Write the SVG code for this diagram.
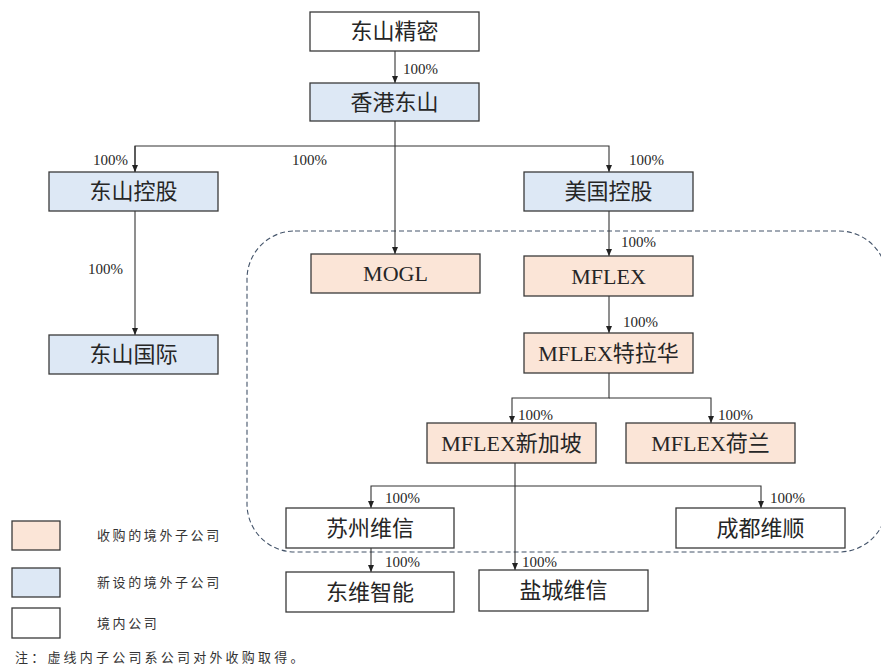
<svg xmlns="http://www.w3.org/2000/svg" width="881" height="672" viewBox="0 0 881 672">
<defs>
<style>
.box{stroke:#3a3a3a;stroke-width:1.3}
.w{fill:#ffffff}
.b{fill:#dde8f5}
.p{fill:#fbe5d7}
.t{font-family:"Liberation Serif","Noto Sans CJK SC",serif;font-size:22px;fill:#262626;text-anchor:middle}
.pc{font-family:"Liberation Serif",serif;font-size:15px;fill:#262626}
.ln{fill:none;stroke:#333;stroke-width:1.1}
.lg{font-family:"Noto Sans CJK SC",sans-serif;font-size:13px;fill:#333;letter-spacing:2.6px}
.nt{letter-spacing:3.2px}
</style>
<marker id="ah" markerUnits="userSpaceOnUse" markerWidth="8" markerHeight="8" refX="7" refY="3" orient="auto">
<path d="M0,0 L7,3 L0,6 z" fill="#222"/>
</marker>
</defs>
<rect width="881" height="672" fill="#ffffff"/>

<rect x="247" y="231" width="640" height="321" rx="48" ry="48" fill="none" stroke="#44546a" stroke-width="1.1" stroke-dasharray="5,3"/>

<g id="connectors">
<line class="ln" x1="395" y1="51" x2="395" y2="83" marker-end="url(#ah)"/>
<line class="ln" x1="395" y1="121" x2="395" y2="254" marker-end="url(#ah)"/>
<polyline class="ln" points="135,172 135,146 609,146 609,172" marker-end="url(#ah)"/>
<line class="ln" x1="135" y1="146" x2="135" y2="172" marker-end="url(#ah)"/>
<line class="ln" x1="135" y1="211" x2="135" y2="335" marker-end="url(#ah)"/>
<line class="ln" x1="609" y1="211" x2="609" y2="256" marker-end="url(#ah)"/>
<line class="ln" x1="609" y1="296" x2="609" y2="333" marker-end="url(#ah)"/>
<polyline class="ln" points="609,373 609,398 512,398 512,423" marker-end="url(#ah)"/>
<polyline class="ln" points="609,398 711,398 711,423" marker-end="url(#ah)"/>
<line class="ln" x1="515" y1="463" x2="515" y2="570" marker-end="url(#ah)"/>
<polyline class="ln" points="515,486 371,486 371,508" marker-end="url(#ah)"/>
<polyline class="ln" points="515,486 761,486 761,508" marker-end="url(#ah)"/>
<line class="ln" x1="371" y1="548" x2="371" y2="572" marker-end="url(#ah)"/>
<text class="pc" x="403" y="74">100%</text>
<text class="pc" x="93" y="165">100%</text>
<text class="pc" x="292" y="165">100%</text>
<text class="pc" x="629" y="165">100%</text>
<text class="pc" x="621" y="247">100%</text>
<text class="pc" x="88" y="274">100%</text>
<text class="pc" x="623" y="327">100%</text>
<text class="pc" x="518" y="420">100%</text>
<text class="pc" x="718" y="420">100%</text>
<text class="pc" x="385" y="503">100%</text>
<text class="pc" x="770" y="503">100%</text>
<text class="pc" x="385" y="567">100%</text>
<text class="pc" x="522" y="567">100%</text>
</g>

<g id="n1"><rect class="box w" x="310" y="12" width="169" height="39"/><text class="t" x="394.5" y="39">东山精密</text></g>
<g id="n2"><rect class="box b" x="310" y="83" width="169" height="38"/><text class="t" x="394.5" y="110">香港东山</text></g>
<g id="n3"><rect class="box b" x="49" y="172" width="169" height="39"/><text class="t" x="133.5" y="199">东山控股</text></g>
<g id="n4"><rect class="box b" x="524" y="172" width="169" height="39"/><text class="t" x="608.5" y="199">美国控股</text></g>
<g id="n5"><rect class="box p" x="311" y="254" width="169" height="39"/><text class="t" x="395.5" y="281">MOGL</text></g>
<g id="n6"><rect class="box p" x="524" y="256" width="169" height="40"/><text class="t" x="608.5" y="284">MFLEX</text></g>
<g id="n7"><rect class="box b" x="49" y="335" width="169" height="39"/><text class="t" x="133.5" y="362">东山国际</text></g>
<g id="n8"><rect class="box p" x="524" y="333" width="169" height="40"/><text class="t" x="608.5" y="361">MFLEX特拉华</text></g>
<g id="n9"><rect class="box p" x="427" y="423" width="169" height="40"/><text class="t" x="511.5" y="451">MFLEX新加坡</text></g>
<g id="n10"><rect class="box p" x="626" y="423" width="169" height="40"/><text class="t" x="710.5" y="451">MFLEX荷兰</text></g>
<g id="n11"><rect class="box w" x="286" y="508" width="168" height="40"/><text class="t" x="370" y="536">苏州维信</text></g>
<g id="n12"><rect class="box w" x="676" y="508" width="169" height="40"/><text class="t" x="760.5" y="536">成都维顺</text></g>
<g id="n13"><rect class="box w" x="286" y="572" width="168" height="40"/><text class="t" x="370" y="600">东维智能</text></g>
<g id="n14"><rect class="box w" x="479" y="570" width="169" height="41"/><text class="t" x="563.5" y="598">盐城维信</text></g>

<g id="legend">
<rect class="box p" x="12" y="521" width="48" height="29"/>
<text class="lg" x="97" y="540">收购的境外子公司</text>
<rect class="box b" x="12" y="568" width="48" height="29"/>
<text class="lg" x="97" y="587">新设的境外子公司</text>
<rect class="box w" x="12" y="608" width="48" height="30"/>
<text class="lg" x="97" y="628">境内公司</text>
<text class="lg nt" x="15" y="662">注：虚线内子公司系公司对外收购取得。</text>
</g>
</svg>
